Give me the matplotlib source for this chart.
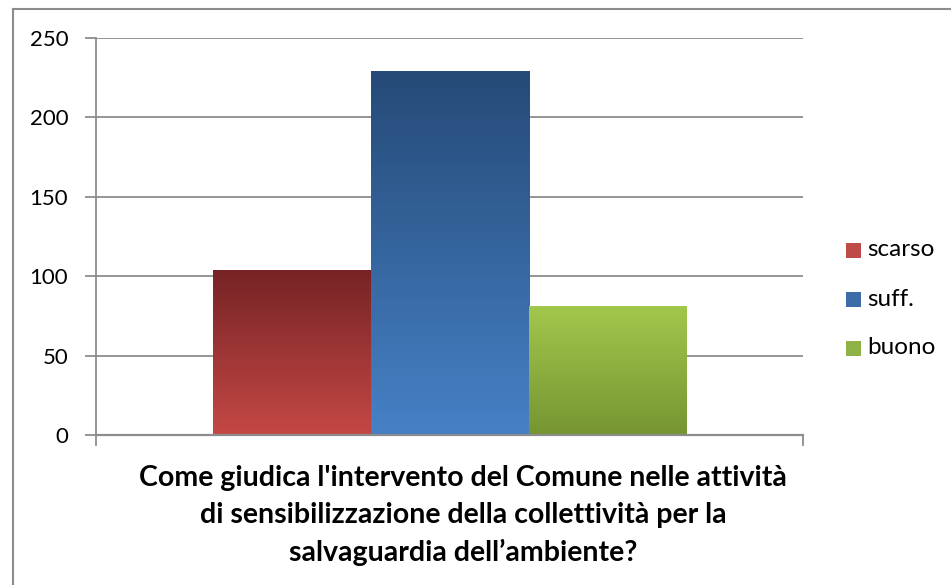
import numpy as np
import matplotlib
matplotlib.use("Agg")
import matplotlib.pyplot as plt
from matplotlib.colors import LinearSegmentedColormap
from matplotlib.lines import Line2D
from matplotlib.patches import Rectangle

# --- DATA ---
series = ["scarso", "suff.", "buono"]
values = [104, 229, 81]
top_colors = ["#762325", "#254A77", "#A2C74C"]
bottom_colors = ["#C44845", "#4681C6", "#769532"]
legend_colors = ["#BE4B48", "#3D6DA8", "#8FB246"]
yticks = [0, 50, 100, 150, 200, 250]
title_lines = [
    "Come giudica l'intervento del Comune nelle attività",
    "di sensibilizzazione della collettività per la",
    "salvaguardia dell\u2019ambiente?",
]

plt.rcParams["font.family"] = ["Lato", "DejaVu Sans"]

W, H = 951, 585
fig = plt.figure(figsize=(W / 100, H / 100), dpi=100)
ax = fig.add_axes([96 / W, 1 - 435 / H, (803 - 96) / W, (435 - 38) / H])

# --- BARS with vertical gradient ---
bar_w = 158 / 707
xs = (np.arange(len(values)) - 1) * bar_w
bars = ax.bar(xs, values, width=bar_w, color="none", edgecolor="none", zorder=3)
grad = np.linspace(1, 0, 256).reshape(-1, 1)
for b, c_top, c_bot in zip(bars, top_colors, bottom_colors):
    cmap = LinearSegmentedColormap.from_list("g", [c_bot, c_top])
    x0, h = b.get_x(), b.get_height()
    im = ax.imshow(grad, cmap=cmap, aspect="auto", extent=(x0, x0 + bar_w, 0, h),
                   zorder=3, interpolation="bilinear")
    im.set_clip_path(b)

ax.set_xlim(-0.5, 0.5)
ax.set_ylim(0, 250)
ax.set_yticks(yticks)
ax.set_yticklabels([str(t) for t in yticks], fontsize=16)
ax.set_xticks([])
ax.yaxis.grid(True, color="#8C8C8C", linewidth=1.3, zorder=0)
ax.set_axisbelow(True)
ax.tick_params(axis="y", length=8, width=1.3, color="#8C8C8C", pad=12)
for s in ["top", "right", "bottom"]:
    ax.spines[s].set_visible(False)
ax.spines["left"].set_color("#8C8C8C")
ax.spines["left"].set_linewidth(1.3)

# x-axis line and end ticks
ax.add_line(Line2D([-0.5, 0.5], [0, 0], color="#8C8C8C", lw=1.6, zorder=4, clip_on=False))
for xe in [-0.5, 0.5]:
    ax.add_line(Line2D([xe, xe], [0, -10 / 1.588], color="#8C8C8C", lw=1.3, clip_on=False))

# --- LEGEND ---
for i, (name, col) in enumerate(zip(series, legend_colors)):
    yc = 1 - (250 + 49 * i) / H
    fig.patches.append(Rectangle((846 / W, yc - 7.5 / H), 15 / W, 15 / H,
                                 transform=fig.transFigure, facecolor=col,
                                 edgecolor="none"))
    fig.text(867 / W, yc, name, fontsize=17.5, va="center", ha="left")

# --- TITLE (category label) ---
for i, line in enumerate(title_lines):
    fig.text(463 / W, 1 - (478 + 37 * i) / H, line, fontsize=20.5, fontweight="bold",
             ha="center", va="center")

# chart frame (top and left edges)
fig.add_artist(Line2D([13 / W, 1], [1 - 9 / H, 1 - 9 / H], color="#8C8C8C", lw=1.5,
                      transform=fig.transFigure))
fig.add_artist(Line2D([13 / W, 13 / W], [0, 1 - 9 / H], color="#8C8C8C", lw=1.5,
                      transform=fig.transFigure))

fig.savefig("out.png", dpi=100)
